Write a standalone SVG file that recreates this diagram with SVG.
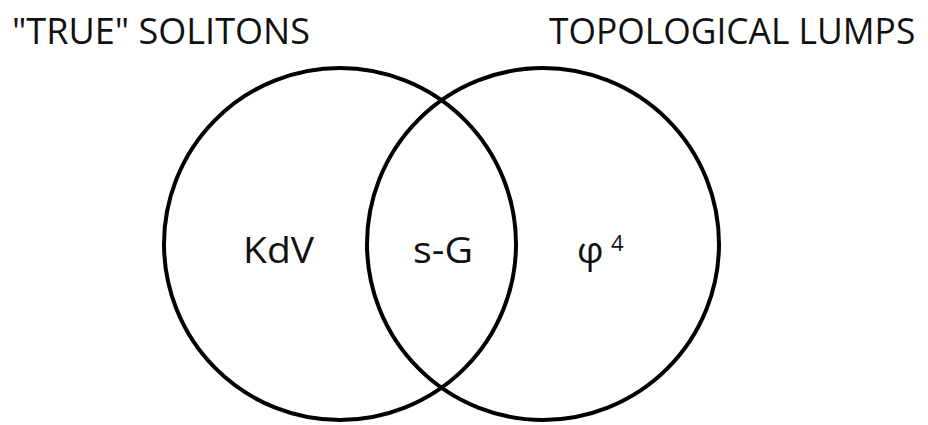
<svg xmlns="http://www.w3.org/2000/svg" width="928" height="425" viewBox="0 0 928 425">
<style>
.c{fill:none;stroke:#000;stroke-width:4}
.t{font-family:"Open Sans","Liberation Sans",sans-serif;fill:#111;font-weight:400}
.h{font-size:37px}
.l{font-size:37px}
</style>
<rect width="928" height="425" fill="#fff"/>
<g id="true-solitons">
<circle class="c" cx="340" cy="244" r="176"/>
<text class="t h" x="12" y="44" textLength="298" lengthAdjust="spacingAndGlyphs">"TRUE" SOLITONS</text>
</g>
<g id="topological-lumps">
<circle class="c" cx="543" cy="244" r="176"/>
<text class="t h" transform="translate(549,44) scale(0.9,1)" x="0" y="0" textLength="407" lengthAdjust="spacingAndGlyphs">TOPOLOGICAL LUMPS</text>
</g>
<g id="labels">
<text class="t l" x="243" y="263" textLength="71" lengthAdjust="spacingAndGlyphs">KdV</text>
<text class="t l" x="413" y="263" textLength="60" lengthAdjust="spacingAndGlyphs">s-G</text>
<text class="t l" x="577" y="263">φ</text>
<text class="t" style="font-size:22px" x="611" y="251">4</text>
</g>
<g id="connectors"></g>
</svg>
